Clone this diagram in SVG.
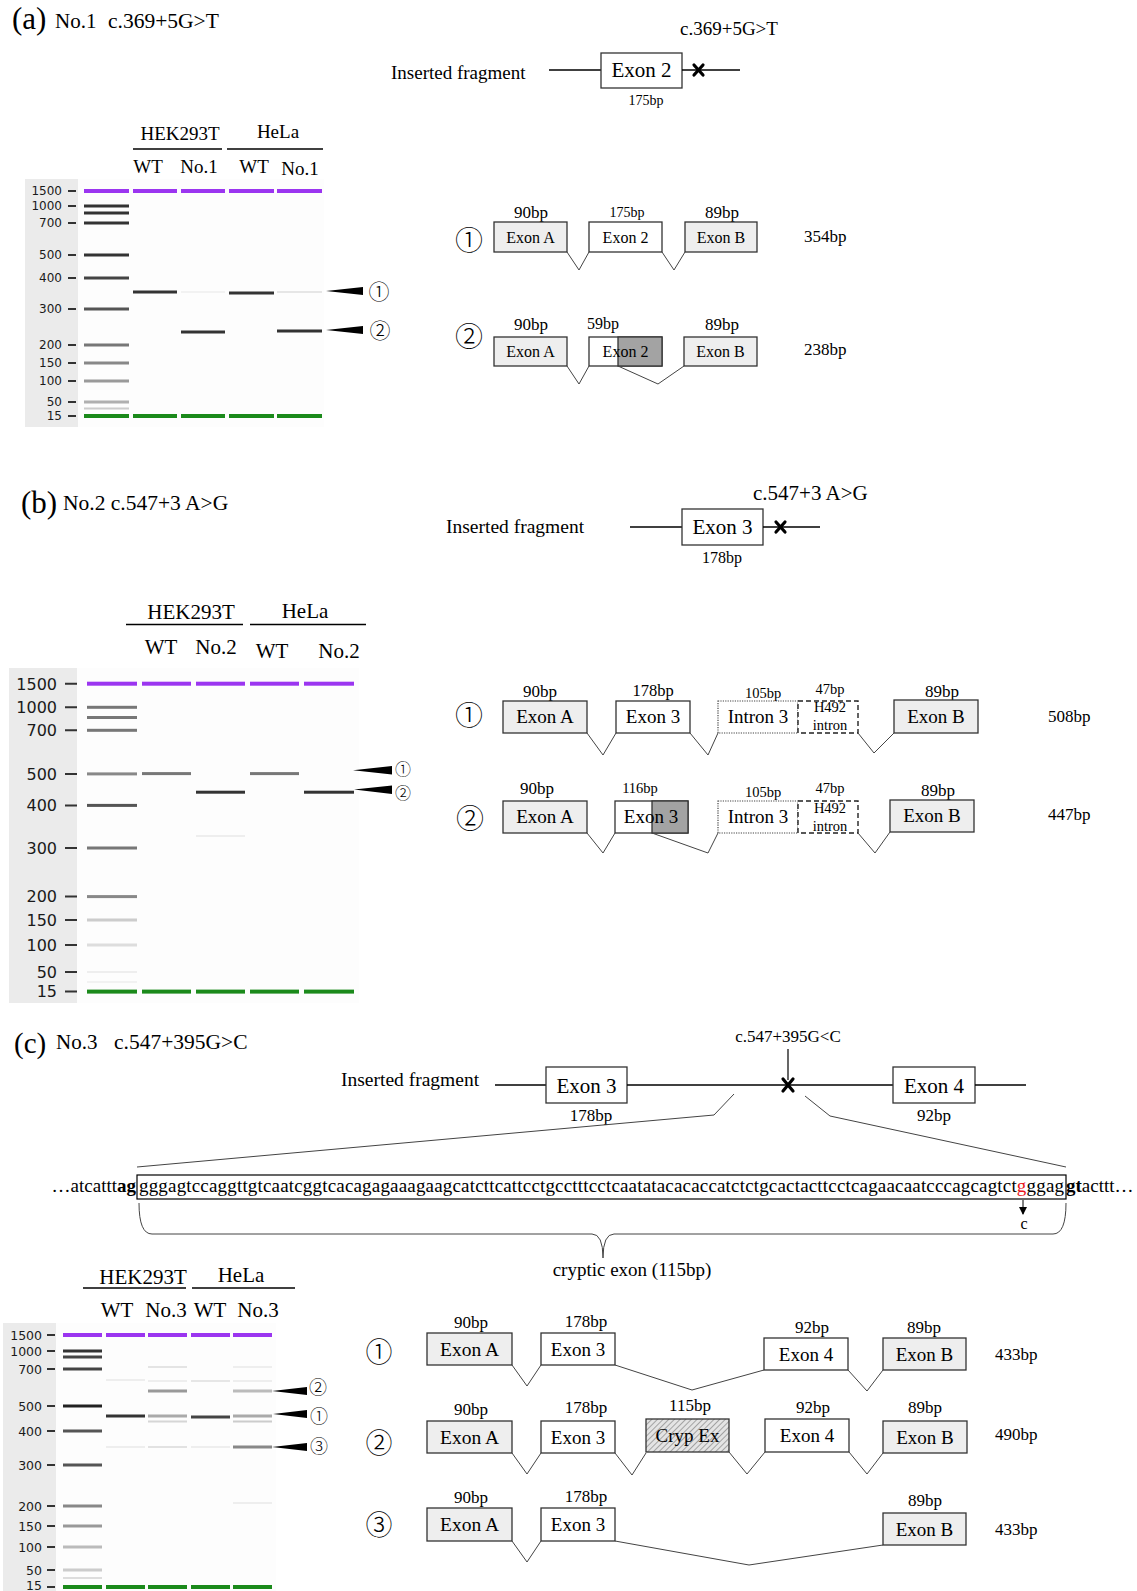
<svg xmlns="http://www.w3.org/2000/svg" width="1137" height="1591" viewBox="0 0 1137 1591">
<style>
text{font-family:"Liberation Serif","Times New Roman",serif;fill:#000}
.m{text-anchor:middle}
.gl{font-family:"DejaVu Sans",sans-serif;fill:#1a1a1a;text-anchor:end}
.cn{font-family:"Noto Sans CJK JP",sans-serif;text-anchor:middle;font-weight:300}
.box{stroke:#333;stroke-width:1.3}
.gr{fill:#eeeeee}
.wh{fill:#fff}
.dk{fill:#a3a3a3;stroke:#333;stroke-width:1.3}
.dot{fill:#fff;stroke:#444;stroke-width:1.2;stroke-dasharray:1.2 1.2}
.dsh{fill:#fff;stroke:#222;stroke-width:1.4;stroke-dasharray:5 3}
.sp{fill:none;stroke:#444;stroke-width:1}
.ln{fill:none;stroke:#000;stroke-width:1.3}
.tick{stroke:#333;stroke-width:2}
.pu{fill:#9b35f0}
.gn{fill:#1b8a1b}
.x{stroke:#000;stroke-width:3.2;stroke-linecap:round}
.arr{fill:#000}
</style>
<defs>
<pattern id="hatch" width="4" height="4" patternUnits="userSpaceOnUse" patternTransform="rotate(45)">
<rect width="4" height="4" fill="#e4e4e4"/>
<line x1="0" y1="0" x2="0" y2="4" stroke="#777" stroke-width="1.2"/>
</pattern>
<marker id="ah" markerWidth="8" markerHeight="8" refX="7" refY="4" orient="auto" markerUnits="userSpaceOnUse">
<path d="M0,0 L8,4 L0,8 Z" fill="#000"/>
</marker>
</defs>

<!-- ===== Section (a) ===== -->
<g id="title-a">
<text x="12" y="29" font-size="31">(a)</text>
<text x="55" y="28" font-size="21">No.1</text>
<text x="108" y="28" font-size="21.5">c.369+5G&gt;T</text>
</g>
<g id="fragment-a">
<text x="680" y="35" font-size="19">c.369+5G&gt;T</text>
<text x="391" y="79" font-size="19">Inserted fragment</text>
<line class="ln" x1="549" y1="70" x2="601" y2="70"/>
<rect class="box wh" x="601" y="53" width="81" height="35"/>
<text class="m" x="641.5" y="77" font-size="21">Exon 2</text>
<line class="ln" x1="682" y1="70" x2="740" y2="70"/>
<line class="x" x1="694" y1="65" x2="703" y2="75"/><line class="x" x1="703" y1="65" x2="694" y2="75"/>
<text class="m" x="646" y="105" font-size="14">175bp</text>
</g>

<g id="gel-a">
<rect x="25" y="179" width="53" height="248" fill="#ebebeb"/>
<rect x="78" y="179" width="246" height="248" fill="#fdfdfd"/>
<text x="180" y="140" font-size="19" class="m">HEK293T</text>
<text x="278" y="138" font-size="19" class="m">HeLa</text>
<line x1="133" y1="149" x2="222" y2="149" stroke="#000" stroke-width="1.5"/>
<line x1="227" y1="149" x2="323" y2="149" stroke="#000" stroke-width="1.5"/>
<text x="148" y="173" font-size="19" class="m">WT</text>
<text x="199" y="173" font-size="19" class="m">No.1</text>
<text x="254" y="173" font-size="19" class="m">WT</text>
<text x="300" y="175" font-size="19" class="m">No.1</text>
<g font-size="12">
<text class="gl" x="62" y="195.3">1500</text>
<text class="gl" x="62" y="210.3">1000</text>
<text class="gl" x="62" y="227.3">700</text>
<text class="gl" x="62" y="259.3">500</text>
<text class="gl" x="62" y="282.3">400</text>
<text class="gl" x="62" y="313.3">300</text>
<text class="gl" x="62" y="349.3">200</text>
<text class="gl" x="62" y="367.3">150</text>
<text class="gl" x="62" y="385.3">100</text>
<text class="gl" x="62" y="406.3">50</text>
<text class="gl" x="62" y="420.3">15</text>
</g>
<path class="tick" d="M68,191H76M68,206H76M68,223H76M68,255H76M68,278H76M68,309H76M68,345H76M68,363H76M68,381H76M68,402H76M68,416H76"/>
<rect class="pu" x="84" y="189" width="45" height="4"/>
<rect class="pu" x="133" y="189" width="44" height="4"/>
<rect class="pu" x="181" y="189" width="44" height="4"/>
<rect class="pu" x="229" y="189" width="45" height="4"/>
<rect class="pu" x="277" y="189" width="45" height="4"/>
<rect class="gn" x="84" y="414" width="45" height="4"/>
<rect class="gn" x="133" y="414" width="44" height="4"/>
<rect class="gn" x="181" y="414" width="44" height="4"/>
<rect class="gn" x="229" y="414" width="45" height="4"/>
<rect class="gn" x="277" y="414" width="45" height="4"/>
<rect x="84" y="204.5" width="45" height="3" fill="#333"/>
<rect x="84" y="211.5" width="45" height="3" fill="#333"/>
<rect x="84" y="221.5" width="45" height="3" fill="#333"/>
<rect x="84" y="253.5" width="45" height="3" fill="#333"/>
<rect x="84" y="276.5" width="45" height="3" fill="#444"/>
<rect x="84" y="307.5" width="45" height="3" fill="#555"/>
<rect x="84" y="343.5" width="45" height="3" fill="#777"/>
<rect x="84" y="361.5" width="45" height="3" fill="#888"/>
<rect x="84" y="379.5" width="45" height="3" fill="#9a9a9a"/>
<rect x="84" y="400.5" width="45" height="3" fill="#b0b0b0"/>
<rect x="84" y="407.5" width="45" height="2" fill="#cccccc"/>
<rect x="133" y="290.5" width="44" height="3" fill="#333"/>
<rect x="229" y="291.5" width="45" height="3" fill="#333"/>
<rect x="181" y="330.5" width="44" height="3" fill="#333"/>
<rect x="277" y="329.5" width="45" height="3" fill="#333"/>
<rect x="277" y="291" width="45" height="2" fill="#e6e6e6"/>
<rect x="181" y="291" width="44" height="2" fill="#f2f2f2"/>
<path class="arr" d="M326,291 L363,287 L363,295 Z"/>
<path class="arr" d="M326,330 L363,326 L363,334 Z"/>
<text class="cn" x="379" y="291" dy="8" font-size="21" fill="#555">①</text>
<text class="cn" x="380" y="330" dy="8" font-size="21" fill="#555">②</text>
</g>

<g id="iso-a1">
<text class="cn" x="469" y="240" dy="10.6" font-size="28">①</text>
<text class="m" x="531" y="218" font-size="17">90bp</text>
<rect class="box gr" x="494" y="222" width="73" height="30"/>
<text class="m" x="530.5" y="243" font-size="16">Exon A</text>
<text class="m" x="627" y="217" font-size="14">175bp</text>
<rect class="box wh" x="589" y="222" width="73" height="30"/>
<text class="m" x="625.5" y="243" font-size="16">Exon 2</text>
<text class="m" x="722" y="218" font-size="17">89bp</text>
<rect class="box gr" x="685" y="222" width="72" height="30"/>
<text class="m" x="721" y="243" font-size="16">Exon B</text>
<text x="804" y="242" font-size="17">354bp</text>
</g>
<g id="iso-a2">
<text class="cn" x="469" y="336" dy="10.6" font-size="28">②</text>
<text class="m" x="531" y="330" font-size="17">90bp</text>
<rect class="box gr" x="494" y="337" width="73" height="29"/>
<text class="m" x="530.5" y="357" font-size="16">Exon A</text>
<text class="m" x="603" y="329" font-size="16">59bp</text>
<rect class="box wh" x="589" y="337" width="73" height="29"/>
<rect class="dk" x="618" y="337" width="44" height="29"/>
<text class="m" x="625.5" y="357" font-size="16">Exon 2</text>
<text class="m" x="722" y="330" font-size="17">89bp</text>
<rect class="box gr" x="684" y="337" width="73" height="29"/>
<text class="m" x="720.5" y="357" font-size="16">Exon B</text>
<text x="804" y="355" font-size="17">238bp</text>
</g>

<!-- ===== Section (b) ===== -->
<g id="title-b">
<text x="21" y="513" font-size="31">(b)</text>
<text x="63" y="510" font-size="21.5">No.2 c.547+3 A&gt;G</text>
</g>
<g id="fragment-b">
<text x="753" y="500" font-size="21">c.547+3 A&gt;G</text>
<text x="446" y="533" font-size="19.5">Inserted fragment</text>
<line class="ln" x1="630" y1="527" x2="682" y2="527"/>
<rect class="box wh" x="682" y="509" width="81" height="36"/>
<text class="m" x="722.5" y="534" font-size="21">Exon 3</text>
<line class="ln" x1="763" y1="527" x2="820" y2="527"/>
<line class="x" x1="776" y1="522" x2="785" y2="532"/><line class="x" x1="785" y1="522" x2="776" y2="532"/>
<text class="m" x="722" y="563" font-size="16">178bp</text>
</g>

<g id="gel-b">
<rect x="9" y="668" width="68" height="335" fill="#ebebeb"/>
<rect x="77" y="668" width="282" height="335" fill="#fdfdfd"/>
<text x="191" y="619" font-size="21" class="m">HEK293T</text>
<text x="305" y="618" font-size="21" class="m">HeLa</text>
<line x1="126" y1="624.5" x2="243" y2="624.5" stroke="#000" stroke-width="1.5"/>
<line x1="250" y1="624.5" x2="366" y2="624.5" stroke="#000" stroke-width="1.5"/>
<text x="161" y="653.6" font-size="21" class="m">WT</text>
<text x="216" y="653.6" font-size="21" class="m">No.2</text>
<text x="272" y="657.6" font-size="21" class="m">WT</text>
<text x="339" y="657.6" font-size="21" class="m">No.2</text>
<g font-size="16">
<text class="gl" x="57" y="689.5">1500</text>
<text class="gl" x="57" y="713.1">1000</text>
<text class="gl" x="57" y="736.1">700</text>
<text class="gl" x="57" y="779.7">500</text>
<text class="gl" x="57" y="811.2">400</text>
<text class="gl" x="57" y="853.8">300</text>
<text class="gl" x="57" y="902.4">200</text>
<text class="gl" x="57" y="925.8">150</text>
<text class="gl" x="57" y="950.8">100</text>
<text class="gl" x="57" y="977.8">50</text>
<text class="gl" x="57" y="997.4">15</text>
</g>
<path class="tick" d="M65,683.7H77M65,707.3H77M65,730.3H77M65,773.9H77M65,805.4H77M65,848H77M65,896.6H77M65,920H77M65,945H77M65,972H77M65,991.6H77" stroke-width="2.4"/>
<rect class="pu" x="87" y="681.7" width="50" height="4"/>
<rect class="pu" x="142" y="681.7" width="49" height="4"/>
<rect class="pu" x="196" y="681.7" width="49" height="4"/>
<rect class="pu" x="250" y="681.7" width="49" height="4"/>
<rect class="pu" x="304" y="681.7" width="50" height="4"/>
<rect class="gn" x="87" y="989.6" width="50" height="4"/>
<rect class="gn" x="142" y="989.6" width="49" height="4"/>
<rect class="gn" x="196" y="989.6" width="49" height="4"/>
<rect class="gn" x="250" y="989.6" width="49" height="4"/>
<rect class="gn" x="304" y="989.6" width="50" height="4"/>
<rect x="87" y="705.8" width="50" height="3" fill="#777"/>
<rect x="87" y="716" width="50" height="3" fill="#777"/>
<rect x="87" y="728.8" width="50" height="3" fill="#777"/>
<rect x="87" y="772.4" width="50" height="3" fill="#888"/>
<rect x="87" y="803.9" width="50" height="3" fill="#555"/>
<rect x="87" y="846.5" width="50" height="3" fill="#777"/>
<rect x="87" y="895.1" width="50" height="3" fill="#888"/>
<rect x="87" y="918.5" width="50" height="3" fill="#cccccc"/>
<rect x="87" y="943.5" width="50" height="3" fill="#dddddd"/>
<rect x="87" y="971" width="50" height="2" fill="#eeeeee"/>
<rect x="87" y="981" width="50" height="2" fill="#f2f2f2"/>
<rect x="142" y="772.1" width="49" height="3" fill="#777"/>
<rect x="250" y="772.1" width="49" height="3" fill="#777"/>
<rect x="196" y="790.7" width="49" height="3" fill="#333"/>
<rect x="304" y="790.7" width="50" height="3" fill="#333"/>
<rect x="196" y="835" width="49" height="2" fill="#eeeeee"/>
<path class="arr" d="M353,770.2 L392,766 L392,774.5 Z"/>
<path class="arr" d="M354,789.5 L392,785.5 L392,794 Z"/>
<text class="cn" x="403" y="769" dy="6.1" font-size="16" fill="#555">①</text>
<text class="cn" x="403" y="793" dy="6.1" font-size="16" fill="#555">②</text>
</g>

<g id="iso-b1">
<text class="cn" x="469" y="715" dy="10.6" font-size="28">①</text>
<text class="m" x="540" y="697" font-size="17">90bp</text>
<rect class="box gr" x="503" y="701" width="84" height="32"/>
<text class="m" x="545" y="723" font-size="19">Exon A</text>
<text class="m" x="653" y="696" font-size="16.5">178bp</text>
<rect class="box wh" x="616" y="701" width="74" height="32"/>
<text class="m" x="653" y="723" font-size="19">Exon 3</text>
<text class="m" x="763" y="698" font-size="14.5">105bp</text>
<rect class="dot" x="718" y="701" width="80" height="32"/>
<text class="m" x="758" y="723" font-size="19">Intron 3</text>
<text class="m" x="830" y="694" font-size="14.5">47bp</text>
<rect class="dsh" x="798" y="701" width="60" height="32"/>
<text class="m" x="830" y="712" font-size="14.5">H492</text>
<text class="m" x="830" y="730" font-size="14.5">intron</text>
<text class="m" x="942" y="697" font-size="17">89bp</text>
<rect class="box gr" x="894" y="700" width="84" height="33"/>
<text class="m" x="936" y="723" font-size="19">Exon B</text>
<text x="1048" y="722" font-size="17">508bp</text>
</g>
<g id="iso-b2">
<text class="cn" x="470" y="818" dy="10.6" font-size="28">②</text>
<text class="m" x="537" y="794" font-size="17">90bp</text>
<rect class="box gr" x="503" y="801" width="84" height="32"/>
<text class="m" x="545" y="823" font-size="19">Exon A</text>
<text class="m" x="640" y="793" font-size="14.5">116bp</text>
<rect class="box wh" x="615" y="801" width="73" height="32"/>
<rect class="dk" x="652" y="801" width="36" height="32"/>
<text class="m" x="651" y="823" font-size="19">Exon 3</text>
<text class="m" x="763" y="797" font-size="14.5">105bp</text>
<rect class="dot" x="718" y="801" width="80" height="32"/>
<text class="m" x="758" y="823" font-size="19">Intron 3</text>
<text class="m" x="830" y="793" font-size="14.5">47bp</text>
<rect class="dsh" x="798" y="801" width="60" height="32"/>
<text class="m" x="830" y="813" font-size="14.5">H492</text>
<text class="m" x="830" y="831" font-size="14.5">intron</text>
<text class="m" x="938" y="796" font-size="17">89bp</text>
<rect class="box gr" x="890" y="800" width="84" height="32"/>
<text class="m" x="932" y="822" font-size="19">Exon B</text>
<text x="1048" y="820" font-size="17">447bp</text>
</g>

<!-- ===== Section (c) ===== -->
<g id="title-c">
<text x="14" y="1053" font-size="29">(c)</text>
<text x="56" y="1049" font-size="21">No.3</text>
<text x="114" y="1049" font-size="21.5">c.547+395G&gt;C</text>
</g>
<g id="fragment-c">
<text class="m" x="788" y="1042" font-size="17">c.547+395G&lt;C</text>
<line x1="788" y1="1049" x2="788" y2="1080" stroke="#000" stroke-width="1.2"/>
<text x="341" y="1086" font-size="19.5">Inserted fragment</text>
<line class="ln" x1="495" y1="1085" x2="546" y2="1085"/>
<rect class="box wh" x="546" y="1067" width="81" height="36"/>
<text class="m" x="586.5" y="1093" font-size="21">Exon 3</text>
<line class="ln" x1="627" y1="1085" x2="893" y2="1085"/>
<line class="x" x1="783" y1="1079" x2="793" y2="1091"/><line class="x" x1="793" y1="1079" x2="783" y2="1091"/>
<rect class="box wh" x="893" y="1067" width="82" height="36"/>
<text class="m" x="934" y="1093" font-size="21">Exon 4</text>
<line class="ln" x1="975" y1="1085" x2="1026" y2="1085"/>
<text class="m" x="591" y="1121" font-size="17">178bp</text>
<text class="m" x="934" y="1121" font-size="17">92bp</text>
</g>
<g id="sequence-c">
<rect x="137" y="1175" width="929" height="24" fill="none" stroke="#000" stroke-width="1.2"/>
<text x="136" y="1192" font-size="19" text-anchor="end">…atcattt<tspan font-weight="bold">ag</tspan></text>
<text x="139" y="1192" font-size="19" textLength="925" lengthAdjust="spacing">gggagtccaggttgtcaatcggtcacagagaaagaagcatcttcattcctgcctttcctcaatatacacaccatctctgcactacttcctcagaacaatcccagcagtct<tspan fill="#e8141b">g</tspan>ggag</text>
<text x="1066" y="1192" font-size="19"><tspan font-weight="bold">gt</tspan>acttt…</text>
<line x1="1023" y1="1200" x2="1023" y2="1214" stroke="#000" stroke-width="1" marker-end="url(#ah)"/>
<text class="m" x="1024" y="1229" font-size="16">c</text>
<text class="m" x="632" y="1276" font-size="19">cryptic exon (115bp)</text>
</g>

<g id="gel-c">
<rect x="3" y="1323" width="53" height="268" fill="#ebebeb"/>
<rect x="56" y="1323" width="220" height="268" fill="#fdfdfd"/>
<text x="143" y="1284" font-size="21" class="m">HEK293T</text>
<text x="241" y="1282" font-size="21" class="m">HeLa</text>
<line x1="83" y1="1288" x2="186" y2="1288" stroke="#000" stroke-width="1.5"/>
<line x1="192" y1="1288" x2="295" y2="1288" stroke="#000" stroke-width="1.5"/>
<text x="117" y="1317" font-size="21" class="m">WT</text>
<text x="166" y="1317" font-size="21" class="m">No.3</text>
<text x="210" y="1317" font-size="21" class="m">WT</text>
<text x="258" y="1317" font-size="21" class="m">No.3</text>
<g font-size="12.5">
<text class="gl" x="42" y="1339.5">1500</text>
<text class="gl" x="42" y="1355.5">1000</text>
<text class="gl" x="42" y="1373.5">700</text>
<text class="gl" x="42" y="1410.5">500</text>
<text class="gl" x="42" y="1435.5">400</text>
<text class="gl" x="42" y="1469.5">300</text>
<text class="gl" x="42" y="1510.5">200</text>
<text class="gl" x="42" y="1530.5">150</text>
<text class="gl" x="42" y="1551.5">100</text>
<text class="gl" x="42" y="1574.5">50</text>
<text class="gl" x="42" y="1590">15</text>
</g>
<path class="tick" d="M47,1335H55M47,1351H55M47,1369H55M47,1406H55M47,1431H55M47,1465H55M47,1506H55M47,1526H55M47,1547H55M47,1570H55M47,1587H55"/>
<rect class="pu" x="63" y="1333" width="39" height="4"/>
<rect class="pu" x="106" y="1333" width="39" height="4"/>
<rect class="pu" x="148" y="1333" width="39" height="4"/>
<rect class="pu" x="191" y="1333" width="39" height="4"/>
<rect class="pu" x="233" y="1333" width="39" height="4"/>
<rect class="gn" x="63" y="1585" width="39" height="4"/>
<rect class="gn" x="106" y="1585" width="39" height="4"/>
<rect class="gn" x="148" y="1585" width="39" height="4"/>
<rect class="gn" x="191" y="1585" width="39" height="4"/>
<rect class="gn" x="233" y="1585" width="39" height="4"/>
<rect x="63" y="1349.5" width="39" height="3" fill="#333"/>
<rect x="63" y="1355.5" width="39" height="3" fill="#444"/>
<rect x="63" y="1367.5" width="39" height="3" fill="#444"/>
<rect x="63" y="1404.5" width="39" height="3" fill="#222"/>
<rect x="63" y="1429.5" width="39" height="3" fill="#555"/>
<rect x="63" y="1463.5" width="39" height="3" fill="#555"/>
<rect x="63" y="1504.5" width="39" height="3" fill="#888"/>
<rect x="63" y="1524.5" width="39" height="3" fill="#999"/>
<rect x="63" y="1545.5" width="39" height="3" fill="#bbb"/>
<rect x="63" y="1568.5" width="39" height="3" fill="#cccccc"/>
<rect x="63" y="1577" width="39" height="2" fill="#dddddd"/>
<rect x="106" y="1379" width="39" height="2" fill="#eeeeee"/>
<rect x="106" y="1414.5" width="39" height="3" fill="#333"/>
<rect x="106" y="1446" width="39" height="2" fill="#eeeeee"/>
<rect x="148" y="1366" width="39" height="2" fill="#e4e4e4"/>
<rect x="148" y="1380" width="39" height="2" fill="#eeeeee"/>
<rect x="148" y="1389.5" width="39" height="3" fill="#999"/>
<rect x="148" y="1414.5" width="39" height="3" fill="#aaa"/>
<rect x="148" y="1420.5" width="39" height="2" fill="#d6d6d6"/>
<rect x="148" y="1446" width="39" height="2" fill="#e2e2e2"/>
<rect x="191" y="1380" width="39" height="2" fill="#e6e6e6"/>
<rect x="191" y="1415.5" width="39" height="3" fill="#444"/>
<rect x="191" y="1446" width="39" height="2" fill="#eeeeee"/>
<rect x="233" y="1366" width="39" height="2" fill="#eeeeee"/>
<rect x="233" y="1380" width="39" height="2" fill="#eeeeee"/>
<rect x="233" y="1389.5" width="39" height="3" fill="#bbb"/>
<rect x="233" y="1414.5" width="39" height="3" fill="#aaa"/>
<rect x="233" y="1420.5" width="39" height="2" fill="#cccccc"/>
<rect x="233" y="1445.5" width="39" height="3" fill="#888"/>
<rect x="233" y="1502" width="39" height="2" fill="#eeeeee"/>
<path class="arr" d="M272,1391 L307,1387 L307,1395 Z"/>
<path class="arr" d="M273,1414 L307,1410 L307,1418 Z"/>
<path class="arr" d="M272,1447 L307,1443 L307,1451 Z"/>
<text class="cn" x="318" y="1387" dy="6.8" font-size="18" fill="#555">②</text>
<text class="cn" x="319" y="1416" dy="6.8" font-size="18" fill="#555">①</text>
<text class="cn" x="319" y="1446" dy="6.8" font-size="18" fill="#555">③</text>
</g>

<g id="iso-c1">
<text class="cn" x="379" y="1352" dy="10.3" font-size="27">①</text>
<text class="m" x="471" y="1328" font-size="17">90bp</text>
<rect class="box gr" x="427" y="1333" width="85" height="32"/>
<text class="m" x="469.5" y="1356" font-size="19.5">Exon A</text>
<text class="m" x="586" y="1327" font-size="17">178bp</text>
<rect class="box wh" x="541" y="1333" width="74" height="32"/>
<text class="m" x="578" y="1356" font-size="19">Exon 3</text>
<text class="m" x="812" y="1333" font-size="17">92bp</text>
<rect class="box wh" x="764" y="1338" width="84" height="32"/>
<text class="m" x="806" y="1361" font-size="19">Exon 4</text>
<text class="m" x="924" y="1333" font-size="17">89bp</text>
<rect class="box gr" x="883" y="1338" width="83" height="32"/>
<text class="m" x="924.5" y="1361" font-size="19">Exon B</text>
<text x="995" y="1360" font-size="17">433bp</text>
</g>
<g id="iso-c2">
<text class="cn" x="379" y="1443" dy="10.3" font-size="27">②</text>
<text class="m" x="471" y="1415" font-size="17">90bp</text>
<rect class="box gr" x="427" y="1421" width="85" height="32"/>
<text class="m" x="469.5" y="1444" font-size="19.5">Exon A</text>
<text class="m" x="586" y="1413" font-size="17">178bp</text>
<rect class="box wh" x="541" y="1421" width="74" height="32"/>
<text class="m" x="578" y="1444" font-size="19">Exon 3</text>
<text class="m" x="690" y="1411" font-size="17">115bp</text>
<rect class="box" x="646" y="1419" width="83" height="33" fill="url(#hatch)"/>
<text class="m" x="687.5" y="1442" font-size="19">Cryp Ex</text>
<text class="m" x="813" y="1413" font-size="17">92bp</text>
<rect class="box wh" x="765" y="1419" width="84" height="33"/>
<text class="m" x="807" y="1442" font-size="19">Exon 4</text>
<text class="m" x="925" y="1413" font-size="17">89bp</text>
<rect class="box gr" x="883" y="1421" width="84" height="32"/>
<text class="m" x="925" y="1444" font-size="19">Exon B</text>
<text x="995" y="1440" font-size="17">490bp</text>
</g>
<g id="iso-c3">
<text class="cn" x="379" y="1525" dy="10.3" font-size="27">③</text>
<text class="m" x="471" y="1503" font-size="17">90bp</text>
<rect class="box gr" x="427" y="1508" width="85" height="33"/>
<text class="m" x="469.5" y="1531" font-size="19.5">Exon A</text>
<text class="m" x="586" y="1502" font-size="17">178bp</text>
<rect class="box wh" x="541" y="1508" width="74" height="33"/>
<text class="m" x="578" y="1531" font-size="19">Exon 3</text>
<text class="m" x="925" y="1506" font-size="17">89bp</text>
<rect class="box gr" x="883" y="1513" width="83" height="32"/>
<text class="m" x="924.5" y="1536" font-size="19">Exon B</text>
<text x="995" y="1535" font-size="17">433bp</text>
</g>

<g id="connectors">
<polyline class="sp" points="567,252 579,270 589,252"/>
<polyline class="sp" points="662,252 674,270 685,252"/>
<polyline class="sp" points="567,366 579,384 589,366"/>
<polyline class="sp" points="618,366 658,384 684,366"/>
<polyline class="sp" points="587,733 603,755 616,733"/>
<polyline class="sp" points="690,733 708,755 718,733"/>
<polyline class="sp" points="858,733 874,753 894,733"/>
<polyline class="sp" points="587,833 603,853 615,833"/>
<polyline class="sp" points="652,833 708,853 718,833"/>
<polyline class="sp" points="858,833 875,853 890,832"/>
<polyline class="sp" points="734,1094 714,1115 137,1167"/>
<polyline class="sp" points="805,1096 830,1116 1066,1167"/>
<path class="sp" d="M139,1203 Q139,1234 152,1234 L592,1234 Q603,1234 603,1258 Q603,1234 614,1234 L1053,1234 Q1066,1234 1066,1203" stroke="#555"/>
<polyline class="sp" points="512,1365 527,1386 541,1365"/>
<polyline class="sp" points="615,1365 692,1390 764,1370"/>
<polyline class="sp" points="848,1370 867,1391 883,1370"/>
<polyline class="sp" points="512,1453 527,1474 541,1453"/>
<polyline class="sp" points="615,1453 632,1475 646,1453"/>
<polyline class="sp" points="729,1452 747,1474 765,1452"/>
<polyline class="sp" points="849,1452 867,1474 883,1453"/>
<polyline class="sp" points="512,1541 527,1562 541,1541"/>
<polyline class="sp" points="615,1541 749,1565 883,1545"/>
</g>
</svg>
